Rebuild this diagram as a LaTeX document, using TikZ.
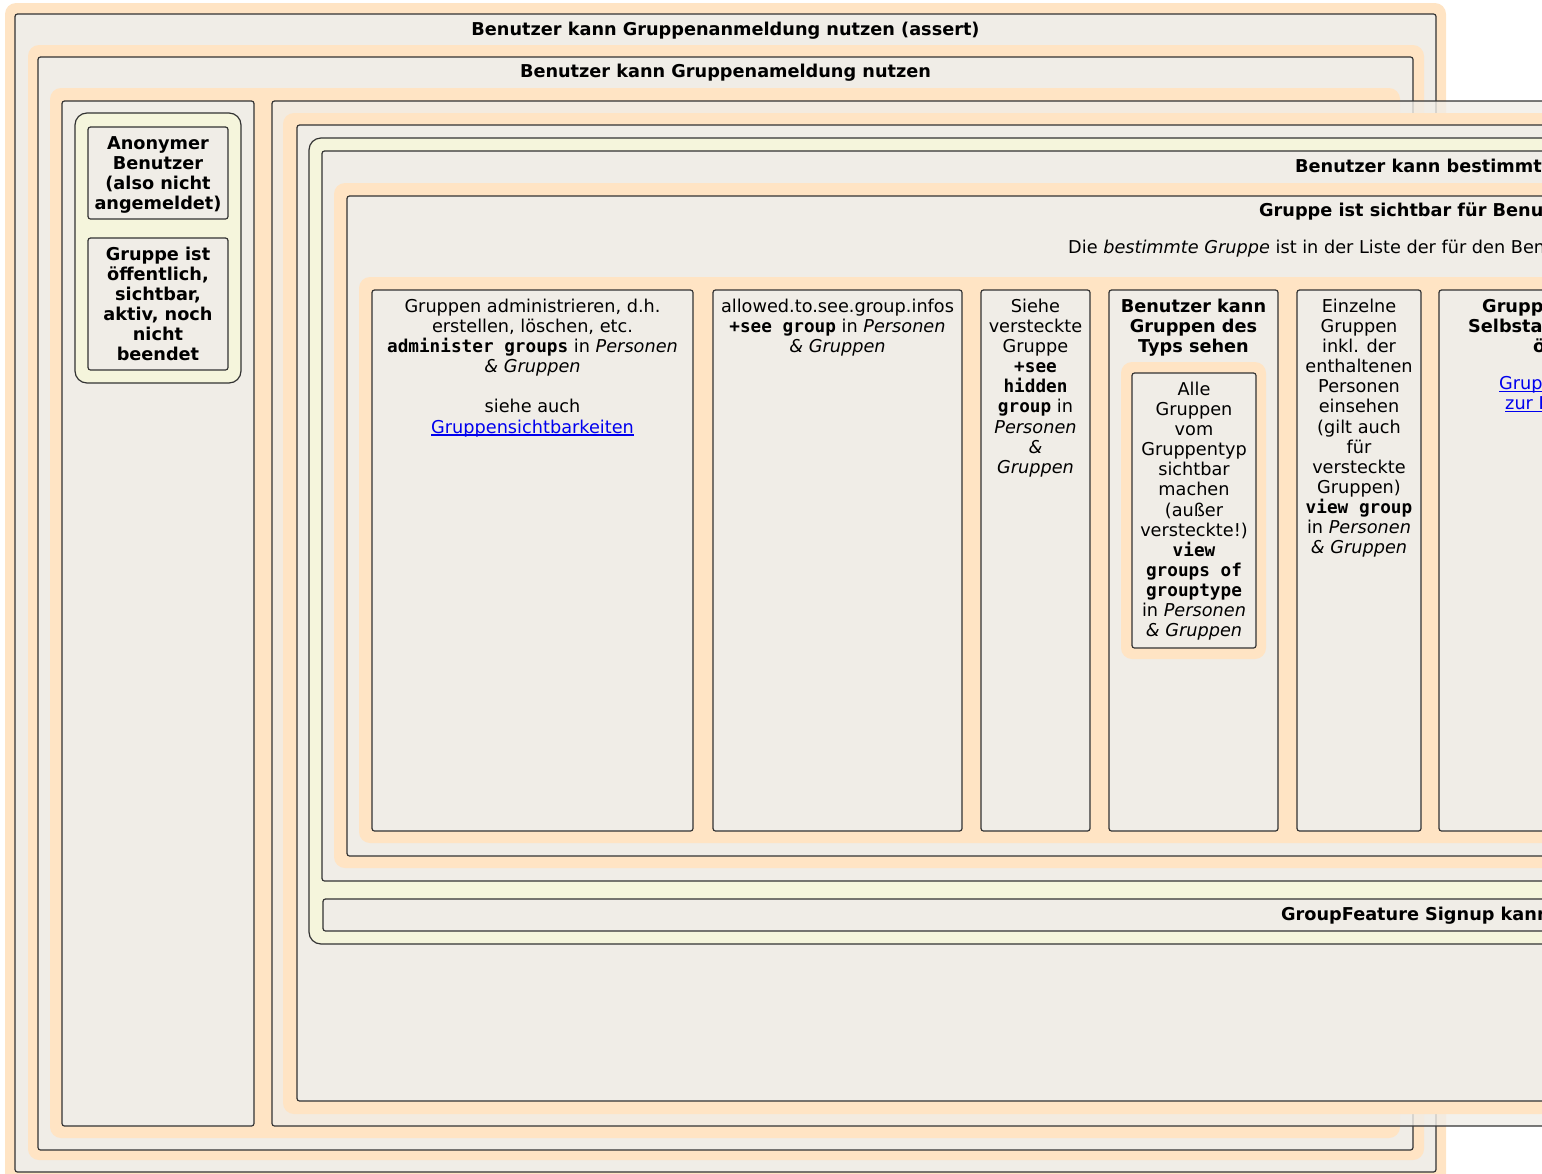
\documentclass[tikz,border=0pt]{standalone}
\usepackage{fontspec}
\setmainfont{DejaVu Sans}[ItalicFont={DejaVu Sans Oblique},BoldFont={DejaVu Sans Bold},BoldItalicFont={DejaVu Sans Bold Oblique}]
\setmonofont{DejaVu Sans Mono}[BoldFont={DejaVu Sans Mono Bold}]
\usepackage{xcolor}
\usepackage{tikz}
\definecolor{peach}{HTML}{FFE4C4}
\definecolor{boxgray}{HTML}{F0EDE7}
\definecolor{lemon}{HTML}{F5F5DC}
\definecolor{linkblue}{HTML}{0000EE}
\tikzset{
  band/.style     ={fill=peach,rounded corners=11pt},
  boxframe/.style ={draw=black!80,line width=1.2pt,fill=boxgray,rounded corners=2.5pt},
  pill/.style     ={boxframe,fill=lemon,rounded corners=12pt},
  txt/.style      ={inner sep=0pt,align=center,anchor=north,font=\fontsize{17.7}{20.1}\selectfont},
  ttl/.style      ={txt,font=\fontsize{17.7}{20.1}\selectfont\bfseries},
  cut/.style      ={inner sep=0pt,anchor=base west,font=\fontsize{17.7}{20.1}\selectfont},
}
\newcommand{\permkey}[1]{\textbf{\texttt{#1}}}
\newsavebox{\linkbox}
\newcommand{\weblink}[1]{\textcolor{linkblue}{\sbox\linkbox{#1}\rlap{\rule[-2.5pt]{\wd\linkbox}{1.2pt}}\usebox\linkbox}}

\begin{document}
\begin{tikzpicture}[x=1pt,y=-1pt]
  \useasboundingbox (0,0) rectangle (1542,1173);
  \clip (0,0) rectangle (1542,1173);
  % outer assert frame
  \path[band] (5,3) rectangle (1446,1195);
  \draw[boxframe] (15,14) rectangle (1436,1172);
  \node[ttl,anchor=base] (assert) at (725.5,35.2) {Benutzer kann Gruppenanmeldung nutzen (assert)};
  \path[band] (28,45) rectangle (1424,1160);
  \draw[boxframe] (38,57) rectangle (1413,1150);
  \node[ttl,anchor=base] (nutzen) at (725.5,77.2) {Benutzer kann Gruppenameldung nutzen};
  \path[band] (50,88) rectangle (1400,1138);
  % left column: preconditions
  \draw[boxframe] (62,101) rectangle (254,1126);
  \draw[pill] (75,113) rectangle (241,383);
  \draw[boxframe] (88,127) rectangle (228,219);
  \node[ttl] (anon) at (158,135.2) {\strut Anonymer\\Benutzer\\(also nicht\\angemeldet)};
  \draw[boxframe] (88,238) rectangle (228,370);
  \node[ttl] (public) at (158,246.2) {\strut Gruppe ist\\öffentlich,\\sichtbar,\\aktiv, noch\\nicht\\beendet};
  % right column runs past the page (semi transparent on top)
  \draw[boxframe,fill opacity=0.8] (272,101) rectangle (1800,1126);
  \path[band] (283,113) rectangle (1800,1114);
  \draw[boxframe] (297,125) rectangle (1800,1101);
  \draw[pill] (309,138) rectangle (1800,944);
  \draw[boxframe] (322,151) rectangle (1800,881);
  \node[cut,font=\fontsize{17.7}{20.1}\selectfont\bfseries] (bestimmt) at (1295,172.2) {Benutzer kann bestimmt};
  \path[band] (334,183) rectangle (1800,868);
  \draw[boxframe] (347,196) rectangle (1800,856);
  \node[cut,font=\fontsize{17.7}{20.1}\selectfont\bfseries] (sichtbar) at (1259,216.2) {Gruppe ist sichtbar für Benu};
  \node[cut] (liste) at (1068,253.2) {Die \textit{bestimmte Gruppe} ist in der Liste der für den Ben};
  \path[band] (359,277) rectangle (1800,843);
  % the ways a group becomes visible
  \foreach \xa/\xb in {372/693, 713/962, 981/1090, 1109/1278, 1297/1421, 1439/1800}
    \draw[boxframe] (\xa,290) rectangle (\xb,831);
  \node[txt] (admin) at (532.5,298.2) {\strut Gruppen administrieren, d.h.\\erstellen, löschen, etc.\\\permkey{administer groups} in \textit{Personen}\\\textit{\& Gruppen}\\\mbox{}\\siehe auch\\\weblink{Gruppensichtbarkeiten}};
  \node[txt] (infos) at (837.5,298.2) {\strut allowed.to.see.group.infos\\\permkey{+see group} in \textit{Personen}\\\textit{\& Gruppen}};
  \node[txt] (hidden) at (1035.5,298.2) {\strut Siehe\\versteckte\\Gruppe\\\permkey{+see}\\\permkey{hidden}\\\permkey{group} in\\\textit{Personen}\\\textit{\&}\\\textit{Gruppen}};
  \node[ttl] (typ) at (1193.5,298.2) {\strut Benutzer kann\\Gruppen des\\Typs sehen};
  \path[band] (1121,362) rectangle (1266,659);
  \draw[boxframe] (1132,373) rectangle (1256,648);
  \node[txt] (grouptype) at (1194,381.2) {\strut Alle\\Gruppen\\vom\\Gruppentyp\\sichtbar\\machen\\(außer\\versteckte!)\\\permkey{view}\\\permkey{groups of}\\\permkey{grouptype}\\in \textit{Personen}\\\textit{\& Gruppen}};
  \node[txt] (einzeln) at (1359,298.2) {\strut Einzelne\\Gruppen\\inkl. der\\enthaltenen\\Personen\\einsehen\\(gilt auch\\für\\versteckte\\Gruppen)\\\permkey{view group}\\in \textit{Personen}\\\textit{\& Gruppen}};
  \node[cut,font=\fontsize{17.7}{20.1}\selectfont\bfseries] (selbstA) at (1482,312.2) {Grupp};
  \node[cut,font=\fontsize{17.7}{20.1}\selectfont\bfseries] (selbstB) at (1468,332.2) {Selbsta};
  \node[cut,font=\fontsize{17.7}{20.1}\selectfont\bfseries] (selbstC) at (1533,352.2) {ö};
  \node[cut] (linkA) at (1499,389.7) {\weblink{Grup}};
  \node[cut] (linkB) at (1505,409.7) {\weblink{zur F}};
  % signup feature bar
  \draw[boxframe] (323,899) rectangle (1800,931);
  \node[cut,font=\fontsize{17.7}{20.1}\selectfont\bfseries] (signup) at (1281,920.2) {GroupFeature Signup kann};
\end{tikzpicture}
\end{document}
